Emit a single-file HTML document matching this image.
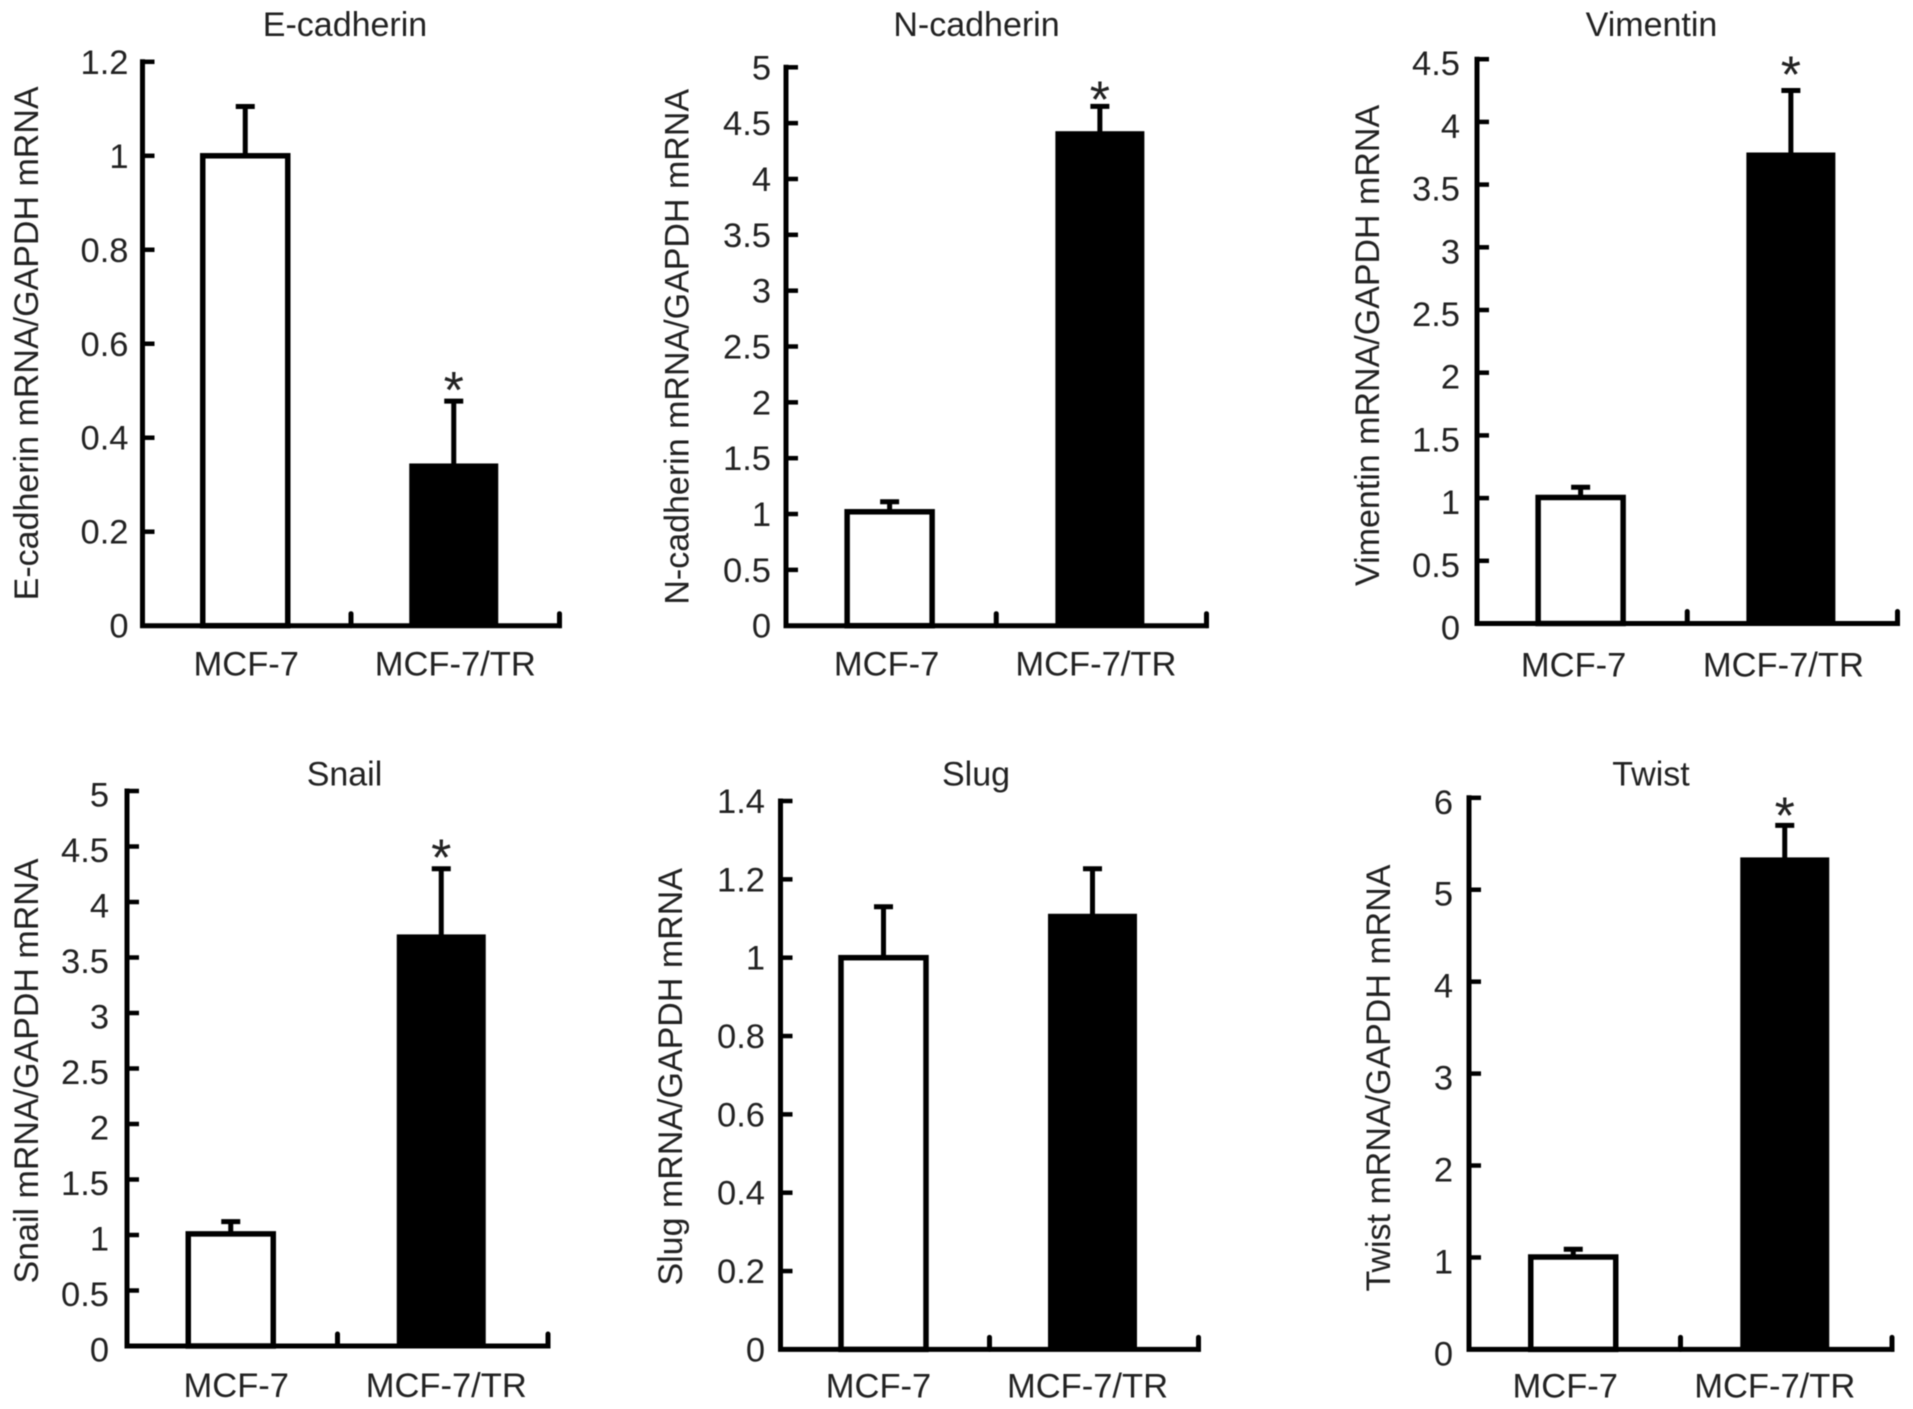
<!DOCTYPE html>
<html lang="en">
<head>
<meta charset="utf-8">
<title>EMT marker mRNA expression in MCF-7 and MCF-7/TR cells</title>
<style>
  html, body { margin: 0; padding: 0; background: #fff; }
  #figure { display: block; width: 1913px; height: 1409px; filter: blur(0.5px); }
  text { font-family: "Liberation Sans", Arial, sans-serif; fill: #222; }
</style>
</head>
<body>
<svg id="figure" xmlns="http://www.w3.org/2000/svg" width="1913" height="1409" viewBox="0 0 1913 1409"></svg>
<script>
// Shared category labels
const categories = ['MCF-7', 'MCF-7/TR'];

// E-cadherin
const eCadherinValues = [1, 0.341];
const eCadherinErrors = [0.105, 0.137];
const eCadherinSignificant = [false, true];
const eCadherinTicks = ['0', '0.2', '0.4', '0.6', '0.8', '1', '1.2'];

// N-cadherin
const nCadherinValues = [1.02, 4.41];
const nCadherinErrors = [0.09, 0.24];
const nCadherinSignificant = [false, true];
const nCadherinTicks = ['0', '0.5', '1', '1.5', '2', '2.5', '3', '3.5', '4', '4.5', '5'];

// Vimentin
const vimentinValues = [1.005, 3.74];
const vimentinErrors = [0.082, 0.51];
const vimentinSignificant = [false, true];
const vimentinTicks = ['0', '0.5', '1', '1.5', '2', '2.5', '3', '3.5', '4', '4.5'];

// Snail
const snailValues = [1.01, 3.69];
const snailErrors = [0.11, 0.61];
const snailSignificant = [false, true];
const snailTicks = ['0', '0.5', '1', '1.5', '2', '2.5', '3', '3.5', '4', '4.5', '5'];

// Slug
const slugValues = [1.0, 1.107];
const slugErrors = [0.13, 0.12];
const slugSignificant = [false, false];
const slugTicks = ['0', '0.2', '0.4', '0.6', '0.8', '1', '1.2', '1.4'];

// Twist
const twistValues = [1.005, 5.33];
const twistErrors = [0.085, 0.37];
const twistSignificant = [false, true];
const twistTicks = ['0', '1', '2', '3', '4', '5', '6'];

// Panel frames (layout only; the marks come from the arrays above)
const panels = [
  { key: 'e-cadherin', title: 'E-cadherin', yTitle: 'E-cadherin mRNA/GAPDH mRNA', values: eCadherinValues, errors: eCadherinErrors, sig: eCadherinSignificant, ticks: eCadherinTicks,
    left: 142.5, right: 559.5, top: 61.8, bottom: 625.7, titleX: 345, titleY: 36, yTitleX: 38, yTitleY: 343.4, tickDx: 14, tickDy: 0, catDx: [1, 1.5], catDy: 49.7, starDy: 0 },
  { key: 'n-cadherin', title: 'N-cadherin', yTitle: 'N-cadherin mRNA/GAPDH mRNA', values: nCadherinValues, errors: nCadherinErrors, sig: nCadherinSignificant, ticks: nCadherinTicks,
    left: 786, right: 1206.5, top: 67.3, bottom: 625.7, titleX: 976.5, titleY: 36, yTitleX: 688.5, yTitleY: 346.8, tickDx: 15, tickDy: 0, catDx: [-3, -4], catDy: 49.7, starDy: 4 },
  { key: 'vimentin', title: 'Vimentin', yTitle: 'Vimentin mRNA/GAPDH mRNA', values: vimentinValues, errors: vimentinErrors, sig: vimentinSignificant, ticks: vimentinTicks,
    left: 1477, right: 1897.5, top: 59.2, bottom: 623.5, titleX: 1651.5, titleY: 36, yTitleX: 1379, yTitleY: 345.4, tickDx: 17, tickDy: 4, catDx: [-7, -7.5], catDy: 52.8, starDy: -5 },
  { key: 'snail', title: 'Snail', yTitle: 'Snail mRNA/GAPDH mRNA', values: snailValues, errors: snailErrors, sig: snailSignificant, ticks: snailTicks,
    left: 127, right: 548, top: 791, bottom: 1346, titleX: 344.5, titleY: 785.3, yTitleX: 38, yTitleY: 1071, tickDx: 18, tickDy: 3.5, catDx: [5.5, 5], catDy: 51, starDy: 0 },
  { key: 'slug', title: 'Slug', yTitle: 'Slug mRNA/GAPDH mRNA', values: slugValues, errors: slugErrors, sig: slugSignificant, ticks: slugTicks,
    left: 780.5, right: 1198.5, top: 801, bottom: 1349.4, titleX: 976, titleY: 785.3, yTitleX: 682, yTitleY: 1076.8, tickDx: 15.5, tickDy: 0, catDx: [-5, -5], catDy: 48.3, starDy: 0 },
  { key: 'twist', title: 'Twist', yTitle: 'Twist mRNA/GAPDH mRNA', values: twistValues, errors: twistErrors, sig: twistSignificant, ticks: twistTicks,
    left: 1469, right: 1892, top: 797.8, bottom: 1349.4, titleX: 1651, titleY: 785.3, yTitleX: 1390, yTitleY: 1078, tickDx: 16, tickDy: 4, catDx: [-8, -10], catDy: 48.3, starDy: 1 }
];

const SVG_NS = 'http://www.w3.org/2000/svg';
const figure = document.getElementById('figure');

function make(parent, tag, attrs, content) {
  const el = document.createElementNS(SVG_NS, tag);
  for (const k in attrs) el.setAttribute(k, attrs[k]);
  if (content !== undefined) el.textContent = content;
  parent.appendChild(el);
  return el;
}

function drawPanel(p) {
  const maxValue = parseFloat(p.ticks[p.ticks.length - 1]);
  const yScale = v => p.bottom - (v / maxValue) * (p.bottom - p.top);
  const band = (p.right - p.left) / categories.length;
  const xCenter = i => p.left + band * (i + 0.5) - 1.5;
  const barW = [90, 89];

  const g = make(figure, 'g', {});
  
  

  const title = make(g, 'text', { x: p.titleX, y: p.titleY, 'text-anchor': 'middle', 'font-size': 34 }, p.title);
  
  

  const yTitle = make(g, 'text', { x: 0, y: 0, 'text-anchor': 'middle', 'font-size': 34, transform: 'translate(' + p.yTitleX + ' ' + p.yTitleY + ') rotate(-90)' }, p.yTitle);
  
  

  // Bars and error bars
  p.values.forEach((value, i) => {
    const cx = xCenter(i);
    const yTop = yScale(value);
    const yErr = yScale(value + p.errors[i]);

    const stem = make(g, 'line', { x1: cx, x2: cx, y1: yTop, y2: yErr, stroke: '#000', 'stroke-width': 5 });
    
    

    const cap = make(g, 'line', { x1: cx - 9.5, x2: cx + 9.5, y1: yErr, y2: yErr, stroke: '#000', 'stroke-width': 5 });
    
    

    const inset = i === 0 ? 2.5 : 0;
    const bar = make(g, 'rect', {
      x: cx - barW[i] / 2 + inset,
      y: yTop + (i === 0 ? 0 : -2),
      width: barW[i] - inset * 2,
      height: p.bottom - yTop + (i === 0 ? 0 : 2),
      fill: i === 0 ? '#fff' : '#000',
      stroke: i === 0 ? '#000' : 'none',
      'stroke-width': 5.5
    });
    
    

    if (p.sig[i]) {
      const star = make(g, 'text', { x: cx, y: yErr + 7 + p.starDy, 'text-anchor': 'middle', 'font-size': 52 }, '*');
      
      
    }

    const catLabel = make(g, 'text', { x: cx + p.catDx[i], y: p.bottom + p.catDy, 'text-anchor': 'middle', 'font-size': 34.5 }, categories[i]);
    
    
  });

  // Y axis ticks and labels
  p.ticks.forEach(label => {
    const v = parseFloat(label);
    const y = yScale(v);
    if (v > 0) {
      const tick = make(g, 'line', { x1: p.left, x2: p.left + 12, y1: y, y2: y, stroke: '#000', 'stroke-width': 4.5 });
      
      
    }
    const tickLabel = make(g, 'text', { x: p.left - p.tickDx, y: y + 12 + p.tickDy, 'text-anchor': 'end', 'font-size': 34.5 }, label);
    
    
  });

  // X axis category ticks
  categories.forEach((c, i) => {
    const x = p.left + band * (i + 1);
    const tick = make(g, 'line', { x1: x, x2: x, y1: p.bottom, y2: p.bottom - 12, stroke: '#000', 'stroke-width': 5, 'stroke-linecap': 'round' });
    
    
  });

  // Axis lines
  const axis = make(g, 'path', {
    d: 'M' + p.left + ' ' + p.top + ' V' + p.bottom + ' H' + p.right,
    fill: 'none', stroke: '#000', 'stroke-width': 5, 'stroke-linejoin': 'miter', 'stroke-linecap': 'square'
  });
  
  
}

panels.forEach(drawPanel);
</script>
</body>
</html>
